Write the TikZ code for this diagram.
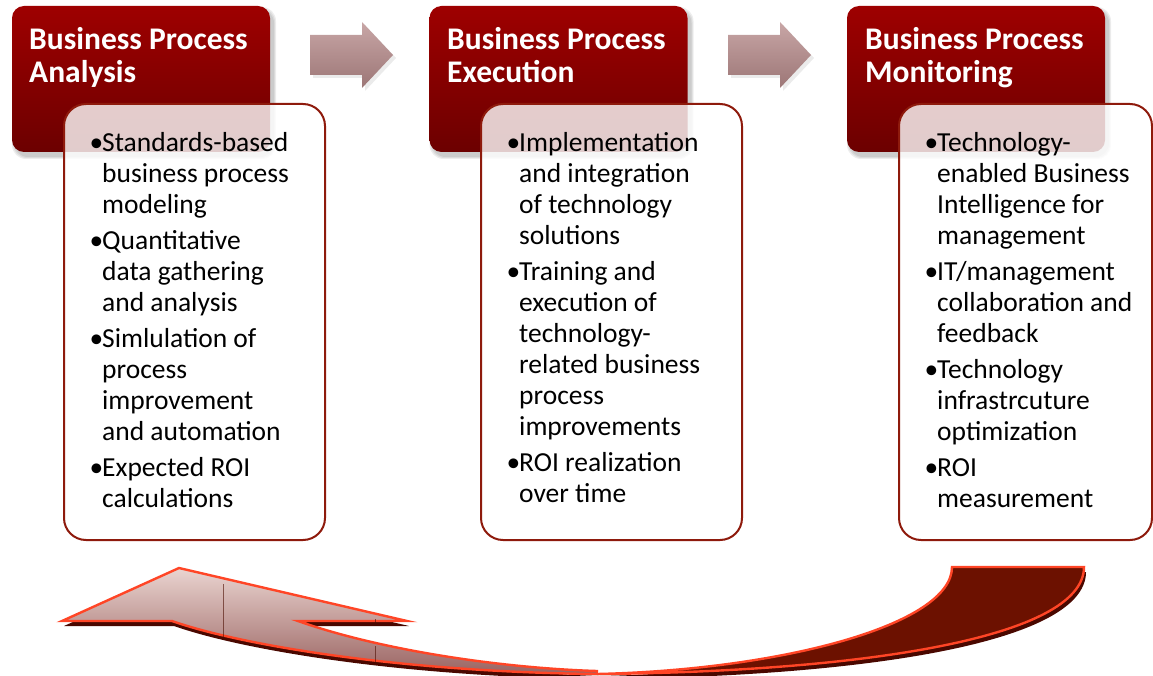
\documentclass[tikz,border=0pt]{standalone}
\usepackage{fontspec}
\setmainfont{Carlito}
\definecolor{hdrtop}{HTML}{9E0000}
\definecolor{hdrbot}{HTML}{6C0000}
\definecolor{bodyline}{HTML}{8E1A0C}
\definecolor{arrtop}{HTML}{C8A6A6}
\definecolor{arrbot}{HTML}{9C7676}
\definecolor{ribline}{HTML}{FF4526}
\definecolor{ribdark}{HTML}{6C1100}
\definecolor{ribshadow}{HTML}{4A0800}
\definecolor{riblight}{HTML}{EAD4D0}
\definecolor{ribmid}{HTML}{9A6462}
\newlength\bw
\newcommand\bp[1]{\par\noindent\hangindent=\bw\hangafter=1\makebox[\bw][l]{•}#1\par}
\newcommand\bodytext[1]{\begin{minipage}[t]{250pt}\fontsize{27.5}{31}\selectfont\setlength\bw{12.5pt}\setlength\parskip{5pt}\setlength\parindent{0pt}\let\nl\newline #1\end{minipage}}
\newcommand\hdrtext[1]{\begin{minipage}[t]{250pt}\fontsize{31.5}{33}\selectfont\bfseries #1\end{minipage}}
\tikzset{
  hdrbox/.style={rounded corners=12pt, top color=hdrtop, bottom color=hdrbot, draw=none},
  hdrshadow/.style={rounded corners=14pt, fill=black, fill opacity=0.07, draw=none},
  bodybox/.style={rounded corners=22pt, draw=bodyline, line width=2pt, fill=white, fill opacity=0.8},
  htext/.style={anchor=base west, inner sep=0pt, text=white},
  btext/.style={anchor=base west, inner sep=0pt, text=black},
  smallarrow/.style={top color=arrtop, bottom color=arrbot, draw=none},
  ribbon/.style={draw=ribline, line width=2.4pt, line join=miter},
}
\begin{document}
\begin{tikzpicture}[x=1pt,y=-1pt]
\useasboundingbox (0,0) rectangle (1153,676);
% header shadows and boxes
\foreach \dx in {0,417.5,835}{
  \begin{scope}[xshift=\dx pt]
  \foreach \s in {2,4,6}{
    \fill[hdrshadow] (12-\s/2+3,6-\s/2+4) rectangle (270+\s/2+3,152+\s/2+4);
  }
  \path[hdrbox] (12,6) rectangle (270,152);
  \end{scope}
}
% small arrows
\foreach \dx in {0,418}{
  \begin{scope}[xshift=\dx pt]
  \fill[black,opacity=0.08] (313,38) -- (365,38) -- (365,25) -- (396,58) -- (365,91) -- (365,78) -- (313,78) -- cycle;
  \path[smallarrow] (310,35) -- (362,35) -- (362,22) -- (393,55) -- (362,88) -- (362,75) -- (310,75) -- cycle;
  \end{scope}
}
% header texts
\node[htext] (h1) at (29,50) {\hdrtext{Business Process\\Analysis}};
\node[htext] (h2) at (447,50) {\hdrtext{Business Process\\Execution}};
\node[htext] (h3) at (865,50) {\hdrtext{Business Process\\Monitoring}};
% body boxes
\path[bodybox] (64,104) rectangle (325,540);
\path[bodybox] (481,104) rectangle (742,540);
\path[bodybox] (899,104) rectangle (1152,540);
% body texts
\node[btext] (b1) at (89.5,152) {\bodytext{%
\bp{Standards-based\nl business process\nl modeling}
\bp{Quantitative\nl data gathering\nl and analysis}
\bp{Simlulation of\nl process\nl improvement\nl and automation}
\bp{Expected ROI\nl calculations}}};
\node[btext] (b2) at (506.5,152) {\bodytext{%
\bp{Implementation\nl and integration\nl of technology\nl solutions}
\bp{Training and\nl execution of\nl technology-\nl related business\nl process\nl improvements}
\bp{ROI realization\nl over time}}};
\node[btext] (b3) at (924.5,152) {\bodytext{%
\bp{Technology-\nl enabled Business\nl Intelligence for\nl management}
\bp{IT/management\nl collaboration and\nl feedback}
\bp{Technology\nl infrastrcuture\nl optimization}
\bp{ROI\nl measurement}}};
% curved return arrow: shadow
\begin{scope}[shift={(2,5)}]
\fill[ribshadow] (952,567) -- (1084,567) .. controls (1084,640) and (850,672) .. (597,674)
   .. controls (400,672) and (240,645) .. (172,621) -- (62,621) -- (179,568) -- (407,621) -- (298,621)
   .. controls (380,650) and (500,668) .. (597,671) .. controls (780,668) and (952,625) .. (952,567) -- cycle;
\end{scope}
% dark back part
\path[ribbon, fill=ribdark] (952,567) -- (1084,567) .. controls (1084,640) and (850,672) .. (597,674)
   .. controls (780,670) and (952,625) .. (952,567) -- cycle;
% light front part with head
\path[ribbon, top color=riblight, bottom color=ribmid] (597,674)
   .. controls (400,672) and (240,645) .. (172,621) -- (62,621) -- (179,568) -- (407,621) -- (298,621)
   .. controls (380,650) and (500,668) .. (597,671) -- cycle;
\draw[ribdark!70!black, line width=0.5pt, opacity=0.6] (223,584) -- (223,637);
\draw[ribdark!70!black, line width=0.5pt, opacity=0.6] (375,619) -- (375,623) (375,646) -- (375,664);
\end{tikzpicture}
\end{document}
